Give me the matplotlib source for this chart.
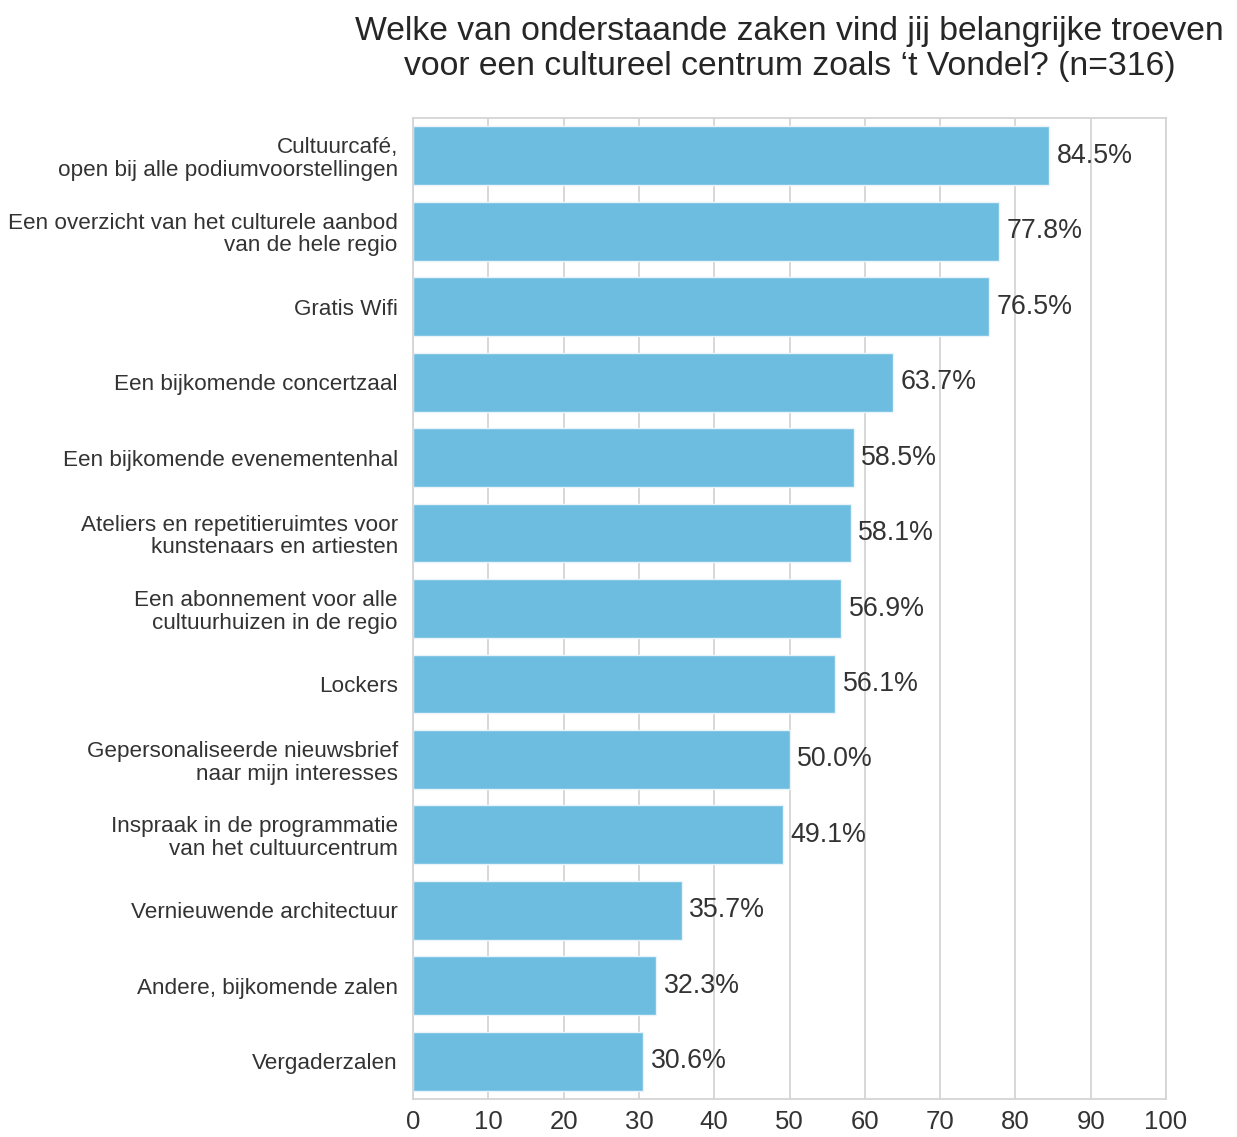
import matplotlib
matplotlib.use('Agg')
import matplotlib.pyplot as plt
import seaborn as sns

categorieen = [
    'Cultuurcafé,\nopen bij alle podiumvoorstellingen',
    'Een overzicht van het culturele aanbod\nvan de hele regio',
    'Gratis Wifi',
    'Een bijkomende concertzaal',
    'Een bijkomende evenementenhal',
    'Ateliers en repetitieruimtes voor\nkunstenaars en artiesten',
    'Een abonnement voor alle\ncultuurhuizen in de regio',
    'Lockers',
    'Gepersonaliseerde nieuwsbrief\nnaar mijn interesses',
    'Inspraak in de programmatie\nvan het cultuurcentrum',
    'Vernieuwende architectuur',
    'Andere, bijkomende zalen',
    'Vergaderzalen',
]
percentages = [84.5, 77.8, 76.5, 63.7, 58.5, 58.1, 56.9, 56.1, 50.0, 49.1, 35.7, 32.3, 30.6]
x_ticks = [0, 10, 20, 30, 40, 50, 60, 70, 80, 90, 100]

sns.set_theme(style='whitegrid')
plt.rcParams['font.family'] = ['Liberation Sans', 'DejaVu Sans']

fig = plt.figure(figsize=(12.37, 11.37), dpi=100)
ax = fig.add_axes([0.3339, 0.0334, 0.6087, 0.8628])

posities = list(range(len(categorieen)))
ax.barh(posities, percentages, height=0.78, color='#6DBDE0',
        edgecolor='#e8f4fa', linewidth=1, zorder=2)

# percentage naast elke balk
for y, v in zip(posities, percentages):
    ax.text(v + 1.0, y, f'{v:.1f}%', va='center', ha='left',
            fontsize=19.3, color='#333333', zorder=3)

ax.set_ylim(len(categorieen) - 0.5, -0.5)
ax.set_xlim(0, 100)
ax.set_xticks(x_ticks)
ax.set_xticklabels([str(t) for t in x_ticks], fontsize=18.5, color='#333333')
ax.set_yticks(posities)
ax.set_yticklabels(categorieen, fontsize=16.2, color='#333333', linespacing=1.1)
ax.tick_params(axis='x', pad=8, length=0)
ax.tick_params(axis='y', pad=11, length=0)

ax.grid(axis='x', color='#d4d4d4', linewidth=1.3, zorder=0)
ax.grid(axis='y', visible=False)
for s in ax.spines.values():
    s.set_color('#d4d4d4')
    s.set_linewidth(1.3)

ax.set_title("Welke van onderstaande zaken vind jij belangrijke troeven\n"
             "voor een cultureel centrum zoals \u2018t Vondel? (n=316)",
             fontsize=24.3, color='#262626', pad=31, linespacing=1.18)

fig.savefig('out.png', dpi=100)
plt.close(fig)
